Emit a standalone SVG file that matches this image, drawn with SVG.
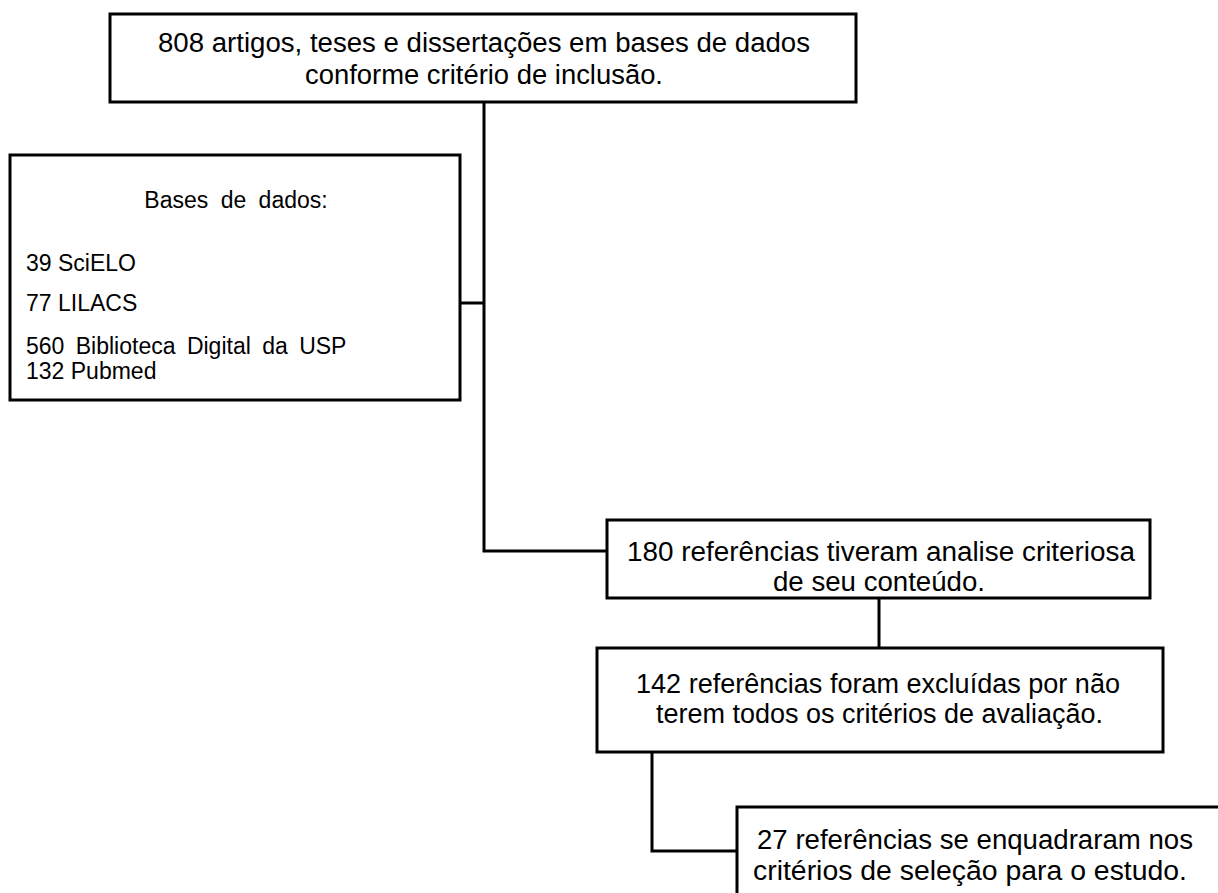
<svg xmlns="http://www.w3.org/2000/svg" width="1218" height="893" viewBox="0 0 1218 893">
<style>
.box{fill:#fff;stroke:#000;stroke-width:3}
.con{fill:none;stroke:#000;stroke-width:3}
.n{font-family:"Liberation Sans",Arial,sans-serif;font-size:27px;fill:#000}
.r{font-family:"Liberation Sans",Arial,sans-serif;font-size:23px;fill:#000}
</style>
<rect width="1218" height="893" fill="#fff"/>
<g id="connectors">
<path class="con" d="M484 102 V551 H607"/>
<path class="con" d="M460 303 H484"/>
<path class="con" d="M879 598 V648"/>
<path class="con" d="M652 752 V851 H737"/>
</g>
<g id="n1">
<rect class="box" x="110" y="14" width="746" height="88"/>
<text class="n" x="158" y="52" textLength="652" lengthAdjust="spacingAndGlyphs">808 artigos, teses e dissertações em bases de dados</text>
<text class="n" x="305" y="84" textLength="358" lengthAdjust="spacingAndGlyphs">conforme critério de inclusão.</text>
</g>
<g id="n2">
<rect class="box" x="10" y="155" width="450" height="245"/>
<text class="r" x="236" y="208" text-anchor="middle" word-spacing="6">Bases de dados:</text>
<text class="r" x="26" y="271">39 SciELO</text>
<text class="r" x="26" y="311">77 LILACS</text>
<text class="r" x="26" y="354" word-spacing="5">560 Biblioteca Digital da USP</text>
<text class="r" x="26" y="379">132 Pubmed</text>
</g>
<g id="n3">
<rect class="box" x="607" y="520" width="543" height="78"/>
<text class="n" x="627" y="561" textLength="508" lengthAdjust="spacingAndGlyphs">180 referências  tiveram  analise  criteriosa</text>
<text class="n" x="773" y="591" textLength="212" lengthAdjust="spacingAndGlyphs">de seu conteúdo.</text>
</g>
<g id="n4">
<rect class="box" x="597" y="648" width="566" height="104"/>
<text class="n" x="636" y="693" textLength="484" lengthAdjust="spacingAndGlyphs">142 referências foram excluídas  por não</text>
<text class="n" x="656" y="723" textLength="447" lengthAdjust="spacingAndGlyphs">terem todos os critérios  de avaliação.</text>
</g>
<g id="n5">
<rect class="box" x="737" y="807" width="500" height="100"/>
<text class="n" x="757" y="849" textLength="436" lengthAdjust="spacingAndGlyphs">27 referências se enquadraram  nos</text>
<text class="n" x="753" y="880" textLength="434" lengthAdjust="spacingAndGlyphs">critérios de seleção para  o estudo.</text>
</g>
</svg>
